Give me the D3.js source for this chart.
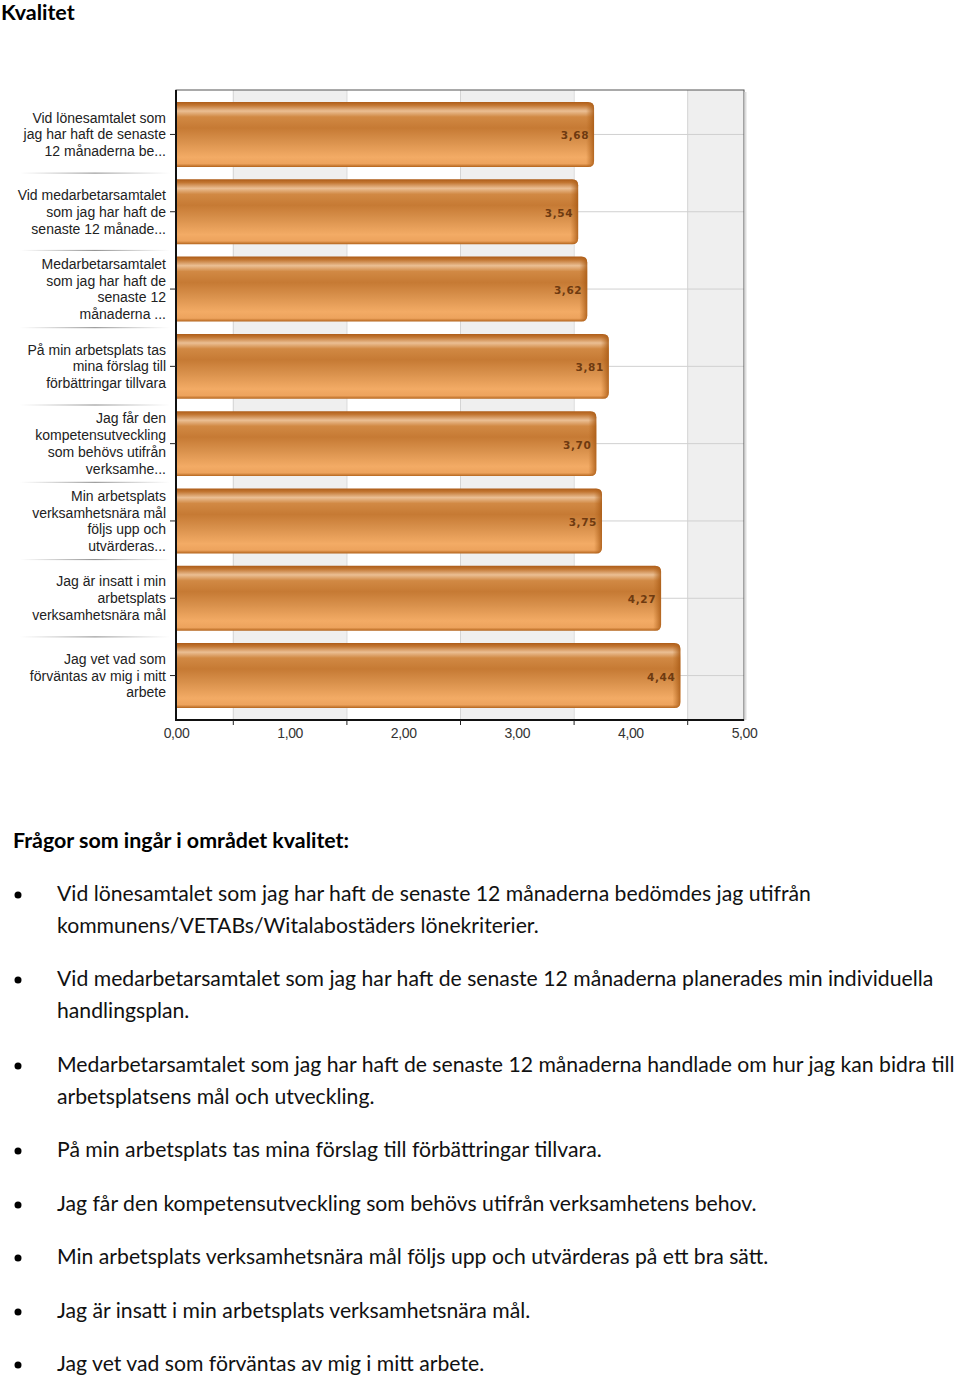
<!DOCTYPE html>
<html>
<head>
<meta charset="utf-8">
<script src="https://cdn.jsdelivr.net/npm/d3@7"></script>
<style>
  body { margin: 0; background: #fff; }
  svg { display: block; }
</style>
</head>
<body>
<script>
// chart data
var categories = ["q1", "q2", "q3", "q4", "q5", "q6", "q7", "q8"];
var labelLines = [
  ["Vid lönesamtalet som", "jag har haft de senaste", "12 månaderna be..."],
  ["Vid medarbetarsamtalet", "som jag har haft de", "senaste 12 månade..."],
  ["Medarbetarsamtalet", "som jag har haft de", "senaste 12", "månaderna ..."],
  ["På min arbetsplats tas", "mina förslag till", "förbättringar tillvara"],
  ["Jag får den", "kompetensutveckling", "som behövs utifrån", "verksamhe..."],
  ["Min arbetsplats", "verksamhetsnära mål", "följs upp och", "utvärderas..."],
  ["Jag är insatt i min", "arbetsplats", "verksamhetsnära mål"],
  ["Jag vet vad som", "förväntas av mig i mitt", "arbete"]
];
var values = [3.68, 3.54, 3.62, 3.81, 3.70, 3.75, 4.27, 4.44];
var xTickValues = [0, 1, 2, 3, 4, 5];
var xGridValues = [0.5, 1.5, 2.5, 3.5, 4.5];

var pageTitle = "Kvalitet";
var listHeading = "Frågor som ingår i området kvalitet:";
var questions = [
  ["Vid lönesamtalet som jag har haft de senaste 12 månaderna bedömdes jag utifrån", "kommunens/VETABs/Witalabostäders lönekriterier."],
  ["Vid medarbetarsamtalet som jag har haft de senaste 12 månaderna planerades min individuella", "handlingsplan."],
  ["Medarbetarsamtalet som jag har haft de senaste 12 månaderna handlade om hur jag kan bidra till", "arbetsplatsens mål och utveckling."],
  ["På min arbetsplats tas mina förslag till förbättringar tillvara."],
  ["Jag får den kompetensutveckling som behövs utifrån verksamhetens behov."],
  ["Min arbetsplats verksamhetsnära mål följs upp och utvärderas på ett bra sätt."],
  ["Jag är insatt i min arbetsplats verksamhetsnära mål."],
  ["Jag vet vad som förväntas av mig i mitt arbete."]
];

var width = 960, height = 1379;
var plot = { left: 176, right: 744, top: 90, bottom: 720 };

var svg = d3
  .select("body")
  .append("svg")
  .attr("width", width)
  .attr("height", height);

var defs = svg.append("defs");

// bar gradient (glossy orange)
var grad = defs.append("linearGradient")
  .attr("id", "barGrad")
  .attr("x1", 0).attr("y1", 0).attr("x2", 0).attr("y2", 1);
[
  [0, "#ad5c18"], [0.05, "#c27632"], [0.14, "#ebbf94"], [0.23, "#d18944"],
  [0.4, "#c67a34"], [0.6, "#d8904b"], [0.85, "#f3ab65"], [0.95, "#eda35d"], [1, "#b3641c"]
].forEach(function (s) {
  grad.append("stop").attr("offset", s[0]).attr("stop-color", s[1]);
});

var endGrad = defs.append("linearGradient")
  .attr("id", "endGrad")
  .attr("x1", 0).attr("y1", 0).attr("x2", 1).attr("y2", 0);
endGrad.append("stop").attr("offset", 0).attr("stop-color", "#b8691f").attr("stop-opacity", 0);
endGrad.append("stop").attr("offset", 1).attr("stop-color", "#a85a15").attr("stop-opacity", 0.85);

var sepGrad = defs.append("linearGradient")
  .attr("id", "sepGrad")
  .attr("x1", 0).attr("y1", 0).attr("x2", 1).attr("y2", 0);
sepGrad.append("stop").attr("offset", 0).attr("stop-color", "#999").attr("stop-opacity", 0);
sepGrad.append("stop").attr("offset", 0.5).attr("stop-color", "#888").attr("stop-opacity", 1);
sepGrad.append("stop").attr("offset", 1).attr("stop-color", "#999").attr("stop-opacity", 0);

var x = d3.scaleLinear().domain([0, 5]).range([plot.left, plot.right]);
var y = d3.scaleBand()
  .domain(categories)
  .range([plot.top, plot.bottom])
  .paddingInner(0.16)
  .paddingOuter(0.155);

// title
svg.append("text")
  .attr("x", 1)
  .attr("y", 20)
  .style("font-family", "Lato, 'Open Sans', sans-serif")
  .style("font-weight", "bold")
  .style("font-size", "21.5px")
  .text(pageTitle);

// background bands
var bandEdges = [0, 0.5, 1.5, 2.5, 3.5, 4.5, 5];
for (var i = 0; i < bandEdges.length - 1; i++) {
  svg.append("rect")
    .attr("x", x(bandEdges[i]))
    .attr("y", plot.top)
    .attr("width", x(bandEdges[i + 1]) - x(bandEdges[i]))
    .attr("height", plot.bottom - plot.top)
    .attr("fill", i % 2 == 1 ? "#efefef" : "#ffffff");
}

// vertical grid
svg.append("g")
  .attr("transform", "translate(0," + plot.top + ")")
  .call(d3.axisBottom(x).tickValues(xGridValues).tickFormat("").tickSize(plot.bottom - plot.top))
  .call(function (g) { g.select(".domain").remove(); })
  .selectAll("line").attr("stroke", "#d4d4d4");

// horizontal grid at category centers
svg.append("g")
  .attr("transform", "translate(" + plot.left + ",0)")
  .call(d3.axisRight(y).tickFormat("").tickSize(plot.right - plot.left))
  .call(function (g) { g.select(".domain").remove(); })
  .selectAll("line").attr("stroke", "#d0d0d0");

// frame
svg.append("rect")
  .attr("x", plot.left).attr("y", plot.top)
  .attr("width", plot.right - plot.left).attr("height", plot.bottom - plot.top)
  .attr("fill", "none").attr("stroke", "#555").attr("stroke-width", 1);
svg.append("line")
  .attr("x1", plot.right + 1.5).attr("x2", plot.right + 1.5)
  .attr("y1", plot.top + 2).attr("y2", plot.bottom)
  .attr("stroke", "#ddd").attr("stroke-width", 2);

// bars
function barPath(x0, y0, w, h, r) {
  return "M" + x0 + "," + y0 +
    "H" + (x0 + w - r) +
    "Q" + (x0 + w) + "," + y0 + " " + (x0 + w) + "," + (y0 + r) +
    "V" + (y0 + h - r) +
    "Q" + (x0 + w) + "," + (y0 + h) + " " + (x0 + w - r) + "," + (y0 + h) +
    "H" + x0 + "Z";
}

var bars = svg.append("g");
bars.selectAll("path.bar")
  .data(values)
  .enter()
  .append("path")
  .attr("class", "bar")
  .attr("fill", "url(#barGrad)")
  .attr("d", function (d, i) {
    return barPath(x(0), y(categories[i]), x(d) - x(0), y.bandwidth(), 6);
  });
bars.selectAll("path.barEnd")
  .data(values)
  .enter()
  .append("path")
  .attr("class", "barEnd")
  .attr("fill", "url(#endGrad)")
  .attr("d", function (d, i) {
    return barPath(x(d) - 8, y(categories[i]), 8, y.bandwidth(), 6);
  });

// value labels
bars.selectAll("text")
  .data(values)
  .enter()
  .append("text")
  .attr("x", function (d) { return x(d) - 5; })
  .attr("y", function (d, i) { return y(categories[i]) + y.bandwidth() / 2 + 5; })
  .attr("text-anchor", "end")
  .style("font-family", "'DejaVu Sans', sans-serif")
  .style("font-weight", "bold")
  .style("font-size", "10.5px")
  .style("letter-spacing", "0.6px")
  .attr("fill", "#6e3a10")
  .text(function (d) { return d.toFixed(2).replace(".", ","); });

// left and bottom axis lines
svg.append("line")
  .attr("x1", plot.left).attr("x2", plot.left)
  .attr("y1", plot.top).attr("y2", plot.bottom + 1)
  .attr("stroke", "#111").attr("stroke-width", 2);
svg.append("line")
  .attr("x1", plot.left - 1).attr("x2", plot.right)
  .attr("y1", plot.bottom).attr("y2", plot.bottom)
  .attr("stroke", "#111").attr("stroke-width", 2);

// x axis: labels at integers, ticks at half steps
svg.append("g")
  .attr("transform", "translate(0," + plot.bottom + ")")
  .call(d3.axisBottom(x).tickValues(xGridValues).tickFormat("").tickSize(5))
  .call(function (g) { g.select(".domain").remove(); })
  .selectAll("line").attr("stroke", "#222");

svg.append("g")
  .attr("transform", "translate(0," + plot.bottom + ")")
  .call(d3.axisBottom(x).tickValues(xTickValues).tickSize(0).tickPadding(8)
    .tickFormat(function (d) { return d3.format(".2f")(d).replace(".", ","); }))
  .call(function (g) { g.select(".domain").remove(); })
  .selectAll("text")
  .style("font-family", "'Liberation Sans', Arial, sans-serif")
  .style("font-size", "14px")
  .style("letter-spacing", "-0.4px")
  .attr("fill", "#333");

// y axis ticks
svg.append("g")
  .attr("transform", "translate(" + plot.left + ",0)")
  .call(d3.axisLeft(y).tickFormat("").tickSize(6))
  .call(function (g) { g.select(".domain").remove(); })
  .selectAll("line").attr("stroke", "#222");

// y labels
var ylab = svg.append("g");
categories.forEach(function (c, i) {
  var lines = labelLines[i];
  var cy = y(c) + y.bandwidth() / 2;
  var t = ylab.append("text")
    .attr("text-anchor", "end")
    .style("font-family", "'Liberation Sans', Arial, sans-serif")
    .style("font-size", "14px")
    .style("letter-spacing", "0px")
    .attr("fill", "#222");
  lines.forEach(function (ln, j) {
    t.append("tspan")
      .attr("x", 166)
      .attr("y", cy + (j - (lines.length - 1) / 2) * 16.8 + 5)
      .text(ln);
  });
  if (i > 0) {
    ylab.append("rect")
      .attr("x", 20)
      .attr("y", y(c) - (y.step() - y.bandwidth()) / 2 - 0.5)
      .attr("width", 150)
      .attr("height", 1)
      .attr("fill", "url(#sepGrad)");
  }
});

// question list
var bodyFont = "Lato, 'Open Sans', sans-serif";
svg.append("text")
  .attr("x", 13)
  .attr("y", 848)
  .style("font-family", bodyFont)
  .style("font-weight", "bold")
  .style("font-size", "21.4px")
  .text(listHeading);

var itemY = [901, 986, 1072, 1157, 1211, 1264, 1318, 1371];
questions.forEach(function (q, i) {
  svg.append("circle")
    .attr("cx", 18)
    .attr("cy", itemY[i] - 6)
    .attr("r", 3.5)
    .attr("fill", "#000");
  q.forEach(function (ln, j) {
    svg.append("text")
      .attr("x", 57)
      .attr("y", itemY[i] + j * 32)
      .style("font-family", bodyFont)
      .style("font-size", "21.2px")
      .attr("fill", "#111")
      .text(ln);
  });
});
</script>
</body>
</html>
